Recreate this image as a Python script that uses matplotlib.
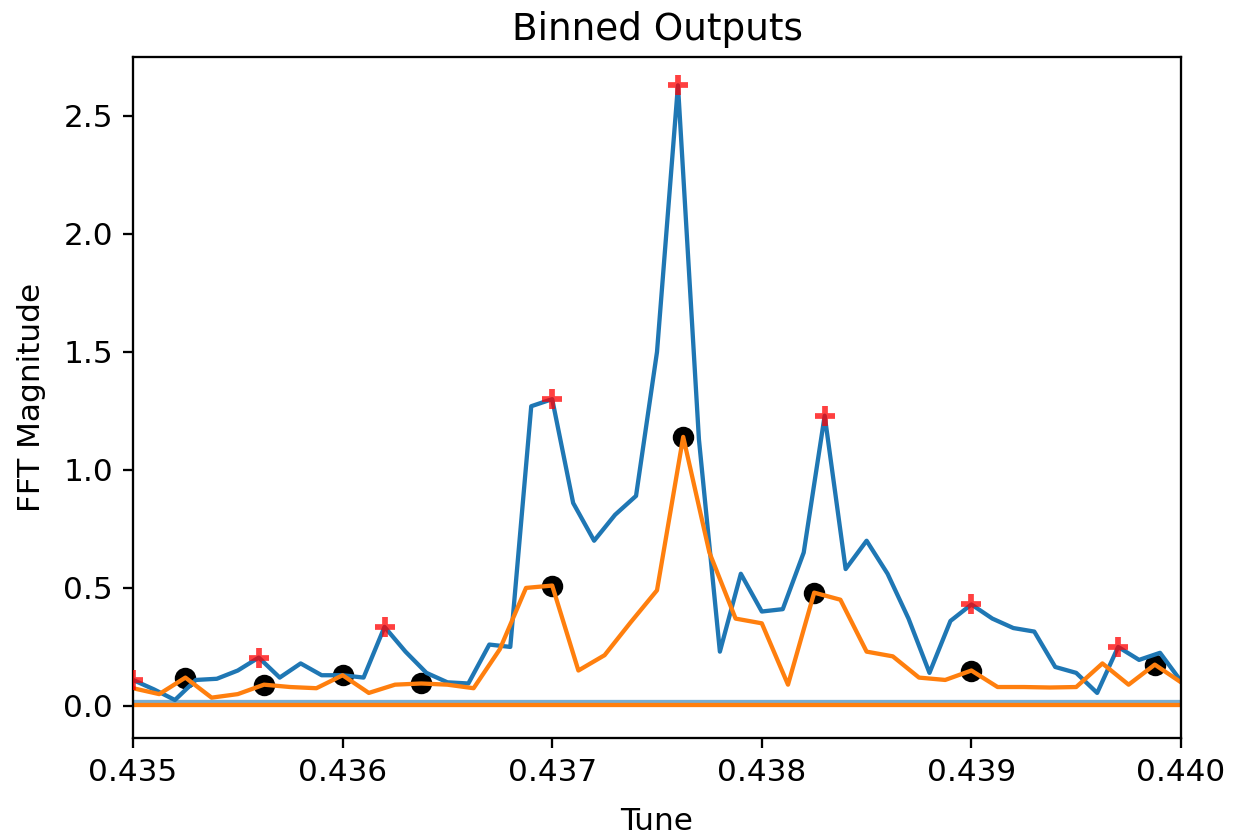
import numpy as np
import matplotlib
matplotlib.use('Agg')
import matplotlib.pyplot as plt

# binned FFT magnitudes, two channels on their own tune grids
tune_a = np.round(np.arange(51) * 0.0001 + 0.435, 6)
mag_a = [0.11, 0.07, 0.025, 0.11, 0.115, 0.15, 0.205, 0.12, 0.18, 0.13,
         0.13, 0.12, 0.335, 0.23, 0.14, 0.10, 0.095, 0.26, 0.25, 1.27,
         1.30, 0.86, 0.70, 0.81, 0.89, 1.50, 2.63, 1.13, 0.23, 0.56,
         0.40, 0.41, 0.65, 1.23, 0.58, 0.70, 0.56, 0.37, 0.14, 0.36,
         0.43, 0.37, 0.33, 0.315, 0.165, 0.14, 0.055, 0.25, 0.195, 0.225,
         0.105]
peaks_a = [0, 6, 12, 20, 26, 33, 40, 47]

tune_b = np.round(np.arange(41) * 0.000125 + 0.435, 6)
mag_b = [0.075, 0.05, 0.12, 0.035, 0.05, 0.09, 0.08, 0.075, 0.13, 0.055,
         0.09, 0.095, 0.09, 0.075, 0.24, 0.50, 0.51, 0.15, 0.215, 0.355,
         0.49, 1.14, 0.65, 0.37, 0.35, 0.09, 0.48, 0.45, 0.23, 0.21,
         0.12, 0.11, 0.15, 0.08, 0.08, 0.078, 0.08, 0.18, 0.09, 0.175,
         0.10]
peaks_b = [2, 5, 8, 11, 16, 21, 26, 32, 39]

# baseline levels of the two channels
base_a = 0.016
base_b = 0.002

mag_a = np.array(mag_a)
mag_b = np.array(mag_b)

plt.rcParams['font.size'] = 10.9

fig = plt.figure(figsize=(6.0, 837 / 206), dpi=206)
ax = fig.add_subplot(111)
fig.subplots_adjust(left=133 / 1236, right=1181 / 1236, top=1 - 57 / 837, bottom=1 - 738 / 837)

ax.plot(tune_a, mag_a, color='C0', zorder=2)
ax.plot(tune_b[peaks_b], mag_b[peaks_b], 'ko', ms=6.5, zorder=1.9)
ax.plot(tune_b, mag_b, color='C1', zorder=2)
ax.plot(tune_a[peaks_a], mag_a[peaks_a], '+', color='red', alpha=0.75, ms=7, mew=2, zorder=3)
ax.axhline(base_a, color='C0', alpha=0.6)
ax.axhline(base_b, color='C1')

ax.set_xlim(0.435, 0.440)
ax.set_ylim(-0.136, 2.75)
ax.set_xticks([0.435, 0.436, 0.437, 0.438, 0.439, 0.440])
ax.set_xticklabels(['0.435', '0.436', '0.437', '0.438', '0.439', '0.440'])
ax.set_title('Binned Outputs')
ax.set_xlabel('Tune', labelpad=7)
ax.set_ylabel('FFT Magnitude', labelpad=6)

plt.savefig('out.png', dpi=206)
